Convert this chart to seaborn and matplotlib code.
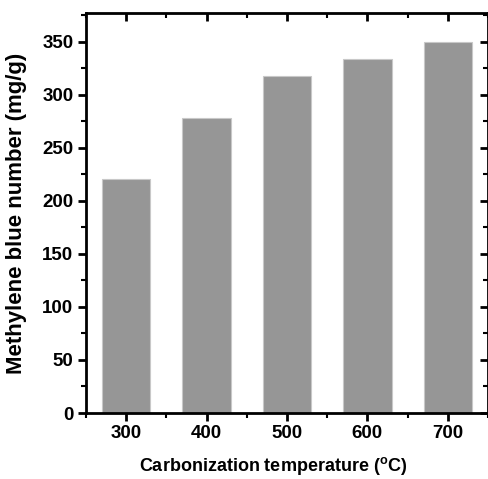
import matplotlib
matplotlib.use("Agg")
import matplotlib.pyplot as plt
import seaborn as sns
import pandas as pd
from matplotlib.ticker import MultipleLocator

temperatures = [300, 400, 500, 600, 700]
mb_number = [221, 278, 318, 334, 350]

sns.set_style("ticks")
plt.rcParams['font.family'] = ['Liberation Sans', 'DejaVu Sans']
plt.rcParams['font.weight'] = 'bold'
plt.rcParams['text.color'] = 'black'
plt.rcParams['axes.labelcolor'] = 'black'
plt.rcParams['xtick.color'] = 'black'
plt.rcParams['ytick.color'] = 'black'
plt.rcParams['mathtext.fontset'] = 'custom'
plt.rcParams['mathtext.bf'] = 'Liberation Sans:bold'
plt.rcParams['mathtext.rm'] = 'Liberation Sans:bold'

df = pd.DataFrame({"T": temperatures, "MB": mb_number})

fig = plt.figure(figsize=(4.89, 4.79), dpi=100)
ax = fig.add_axes([86/489, 66/479, 402/489, 400/479])

sns.barplot(data=df, x="T", y="MB", native_scale=True, width=0.6,
            color="#969696", saturation=1, edgecolor="#c8c8c8", linewidth=0.8, ax=ax)

ax.set_xlim(250, 750)
ax.set_ylim(0, 377)
ax.xaxis.set_major_locator(MultipleLocator(100))
ax.xaxis.set_minor_locator(MultipleLocator(50))
ax.yaxis.set_major_locator(MultipleLocator(50))
ax.yaxis.set_minor_locator(MultipleLocator(25))

for s in ax.spines.values():
    s.set_linewidth(2)
    s.set_visible(True)
    s.set_color('black')

ax.tick_params(axis='both', which='major', direction='out', length=6, width=2,
               labelsize=13.5, pad=3, colors='black')
ax.tick_params(axis='both', which='minor', direction='out', length=3.5, width=1.5)
axt = ax.secondary_xaxis('top')
axt.xaxis.set_major_locator(MultipleLocator(100))
axt.xaxis.set_minor_locator(MultipleLocator(50))
axt.tick_params(which='major', direction='in', length=6, width=2, labeltop=False)
axt.tick_params(which='minor', direction='in', length=3.5, width=1.5)
axr = ax.secondary_yaxis('right')
axr.yaxis.set_major_locator(MultipleLocator(50))
axr.yaxis.set_minor_locator(MultipleLocator(25))
axr.tick_params(which='major', direction='in', length=6, width=2, labelright=False)
axr.tick_params(which='minor', direction='in', length=3.5, width=1.5)

for lab in ax.get_xticklabels() + ax.get_yticklabels():
    lab.set_fontweight('bold')

ax.set_xlabel(r'Carbonization temperature ($^{\mathbf{o}}$C)', fontsize=13,
              fontweight='bold', labelpad=9, x=0.465)
ax.set_ylabel('Methylene blue number (mg/g)', fontsize=16, fontweight='bold',
              labelpad=11)

fig.savefig("out.png", dpi=100)
